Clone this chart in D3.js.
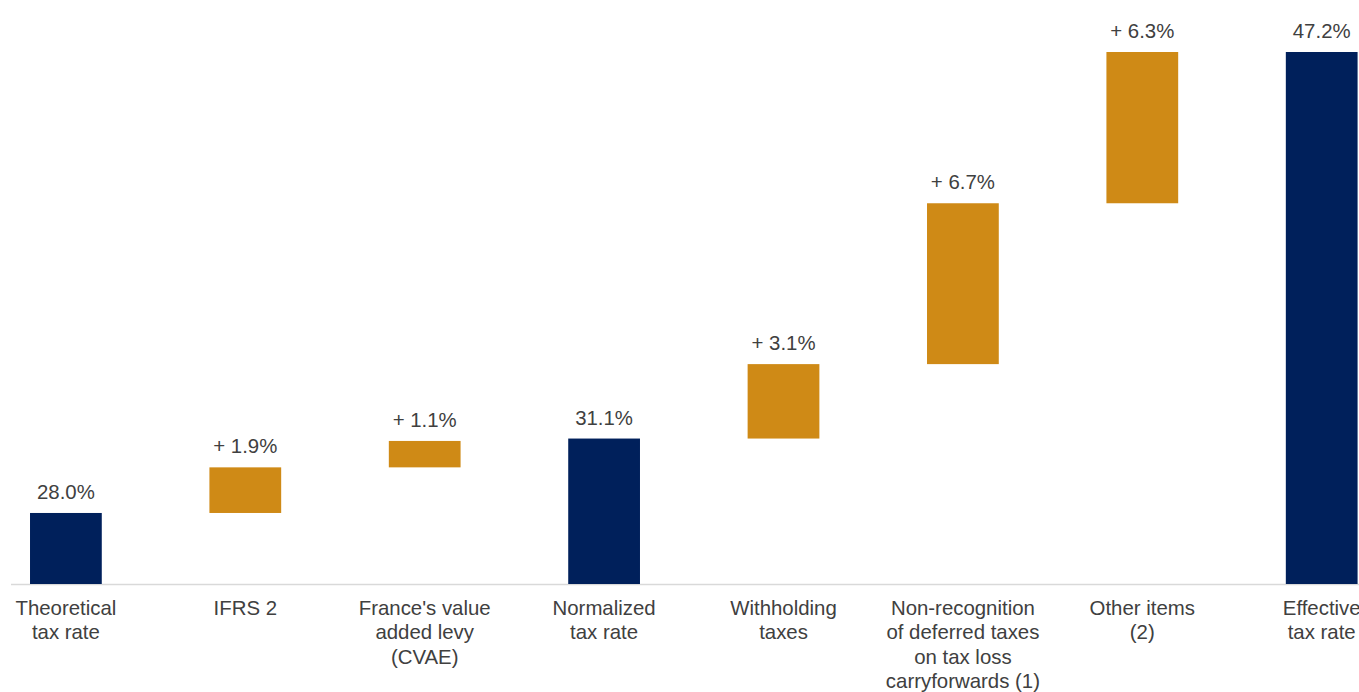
<!DOCTYPE html>
<html>
<head>
<meta charset="utf-8">
<script src="https://cdn.jsdelivr.net/npm/d3@7"></script>
<style>
  html, body { margin: 0; padding: 0; background: #fff; overflow: hidden; }
  svg { display: block; }
  text { font-family: "Liberation Sans", Arial, sans-serif; fill: #404040; }
</style>
</head>
<body>
<svg id="chart" width="1359" height="692"></svg>
<script>
// Data
const categories = [
  ["Theoretical", "tax rate"],
  ["IFRS 2"],
  ["France's value", "added levy", "(CVAE)"],
  ["Normalized", "tax rate"],
  ["Withholding", "taxes"],
  ["Non-recognition", "of deferred taxes", "on tax loss", "carryforwards (1)"],
  ["Other items", "(2)"],
  ["Effective", "tax rate"]
];
const values = [28.0, 1.9, 1.1, 31.1, 3.1, 6.7, 6.3, 47.2];
const isTotal = [true, false, false, true, false, false, false, true];
const valueLabels = ["28.0%", "+ 1.9%", "+ 1.1%", "31.1%", "+ 3.1%", "+ 6.7%", "+ 6.3%", "47.2%"];
const axisMin = 25;

// Build waterfall segments
let running = 0;
const segments = values.map((v, i) => {
  let lo, hi;
  if (isTotal[i]) { lo = axisMin; hi = v; running = v; }
  else { lo = running; hi = running + v; running = hi; }
  return { i, lo, hi, total: isTotal[i], label: valueLabels[i], cat: categories[i] };
});

const svg = d3.select("#chart");
const navy = "#00205B";
const gold = "#CF8A16";

const x = d3.scaleBand()
  .domain(d3.range(categories.length))
  .range([11, 1376.6])
  .paddingInner(0.6)
  .paddingOuter(0.106);

const y = d3.scaleLinear().domain([axisMin, 47.2]).range([585, 52]);

// baseline
svg.append("line")
  .attr("x1", 11).attr("x2", 1359)
  .attr("y1", y(axisMin) - 0.5).attr("y2", y(axisMin) - 0.5)
  .attr("stroke", "#d9d9d9").attr("stroke-width", 1.5);

// bars
svg.selectAll("rect.bar").data(segments).enter().append("rect")
  .attr("class", "bar")
  .attr("x", d => x(d.i))
  .attr("width", x.bandwidth())
  .attr("y", d => y(d.hi))
  .attr("height", d => y(d.lo) - y(d.hi) - (d.total ? 1 : 0))
  .attr("fill", d => d.total ? navy : gold);

// value labels
svg.selectAll("text.val").data(segments).enter().append("text")
  .attr("class", "val")
  .attr("x", d => x(d.i) + x.bandwidth() / 2)
  .attr("y", d => y(d.hi) - 14)
  .attr("text-anchor", "middle")
  .style("font-size", "20.4px")
  .text(d => d.label);

// category labels
const catG = svg.selectAll("text.cat").data(segments).enter().append("text")
  .attr("class", "cat")
  .attr("text-anchor", "middle")
  .style("font-size", "20.4px")
  .attr("x", d => x(d.i) + x.bandwidth() / 2)
  .attr("y", 615);
catG.each(function(d) {
  const t = d3.select(this);
  d.cat.forEach((line, k) => {
    t.append("tspan")
      .attr("x", x(d.i) + x.bandwidth() / 2)
      .attr("dy", k === 0 ? 0 : 24.3)
      .text(line);
  });
});
</script>
</body>
</html>
